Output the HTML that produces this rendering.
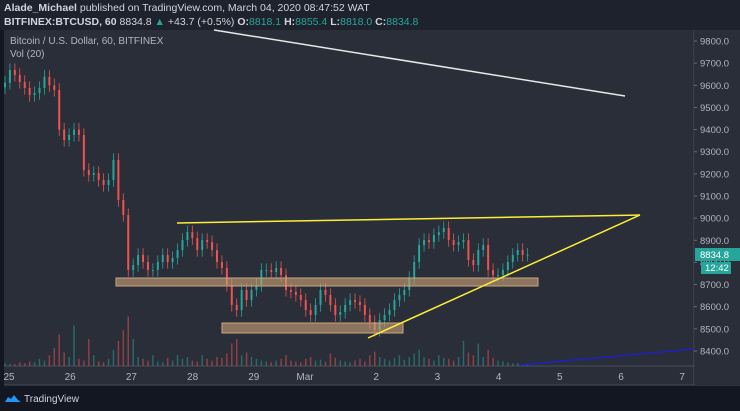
<!DOCTYPE html>
<html><head><meta charset="utf-8"><style>
html,body{margin:0;padding:0;background:#131722;}
#wrap{position:relative;width:740px;height:411px;overflow:hidden;background:#131722;font-family:"Liberation Sans",sans-serif;}
#hdr{position:absolute;left:0;top:0;width:740px;height:30px;background:#1e222d;color:#d1d4dc;font-size:10.5px;}
#hdr div{position:absolute;left:4px;white-space:nowrap;}
.g{color:#26a69a}
svg{position:absolute;left:0;top:0}
</style></head><body>
<div id="wrap">
<div id="hdr">
<div style="top:2px"><b>Alade_Michael</b> published on TradingView.com, March 04, 2020 08:47:52 WAT</div>
<div style="top:16px"><b>BITFINEX:BTCUSD, 60</b> 8834.8 <span class="g">▲</span> +43.7 (+0.5%) <b>O:</b><span class="g">8818.1</span> <b>H:</b><span class="g">8855.4</span> <b>L:</b><span class="g">8818.0</span> <b>C:</b><span class="g">8834.8</span></div>
</div>
<svg id="chart" width="740" height="411"></svg>
</div>
<script>
const closes=[9611,9669,9647,9615,9588,9556,9565,9588,9638,9600,9579,9400,9353,9376,9400,9376,9218,9195,9204,9172,9150,9172,9263,9082,9014,8766,8788,8834,8802,8766,8766,8802,8834,8802,8820,8856,8901,8937,8910,8856,8901,8892,8856,8802,8775,8698,8608,8585,8676,8630,8676,8698,8766,8766,8757,8775,8743,8676,8667,8653,8630,8585,8563,8608,8676,8653,8608,8563,8576,8608,8630,8621,8608,8563,8531,8495,8540,8563,8585,8630,8653,8676,8730,8802,8879,8901,8892,8924,8937,8956,8901,8879,8892,8901,8811,8788,8856,8879,8766,8743,8743,8766,8802,8834,8856,8834,8835];
const volumes=[3,2,2,4,3,5,4,8,6,12,20,35,15,10,45,8,6,30,12,5,4,8,18,28,40,55,30,10,8,6,12,5,4,9,6,12,8,10,6,5,12,8,6,10,9,14,25,30,12,15,10,8,6,5,4,6,8,12,6,5,4,8,10,6,7,5,14,9,6,5,4,6,8,5,12,16,10,8,6,9,12,7,10,14,18,10,8,6,12,9,8,6,10,28,15,12,25,10,18,9,6,5,4,3,3,2,2];
const priceTicks=[9800,9700,9600,9500,9400,9300,9200,9100,9000,8900,8800,8700,8600,8500,8400];
const timeLabels=["25","26","27","28","29","Mar","2","3","4","5","6","7"];
const timeDays=[0,1,2,3,4,5,6,7,8,9,10,11];
const NS="http://www.w3.org/2000/svg";
const svg=document.getElementById('chart');
const yP=p=>351-(p-8400)*0.2214;
const xDay=d=>d===5?305:9+d*61.2;
const xI=i=>5+i*4.93;
function el(t,a,p){const e=document.createElementNS(NS,t);for(const k in a)e.setAttribute(k,a[k]);(p||svg).appendChild(e);return e;}
const pane=el('rect',{x:4,y:30,width:690,height:355,fill:'#2a2e39'});


el('line',{x1:4,y1:366,x2:740,y2:366,stroke:'#4a4e59','stroke-width':1});
el('line',{x1:694,y1:30,x2:694,y2:385,stroke:'#4a4e59','stroke-width':1});
el('line',{x1:4,y1:385,x2:740,y2:385,stroke:'#4a4e59','stroke-width':1});
el('rect',{x:695,y:30,width:45,height:355,fill:'#2a2e39'});
const t1=el('text',{x:10,y:44,fill:'#b2b5be','font-size':'10px'});t1.textContent='Bitcoin / U.S. Dollar, 60, BITFINEX';


const t2=el('text',{x:10,y:57,fill:'#b2b5be','font-size':'10px'});t2.textContent='Vol (20)';


priceTicks.forEach(p=>{const t=el('text',{x:700,y:yP(p)+3.5,fill:'#b2b5be','font-size':'9.5px'});t.textContent=p.toFixed(1);


el('line',{x1:694,y1:yP(p),x2:697,y2:yP(p),stroke:'#6a6d78'});});
timeDays.forEach((d,i)=>{const t=el('text',{x:xDay(d),y:380,fill:'#b2b5be','font-size':'10px','text-anchor':'middle'});t.textContent=timeLabels[i];

});
// volume
volumes.forEach((v,i)=>{const up=i===0||closes[i]>=closes[i-1];const b=el('rect',{x:xI(i)-0.75,y:366-v*0.9,width:1.5,height:v*0.9,fill:up?'#26a69a':'#ef5350',opacity:0.5});

});
// candles
closes.forEach((c,i)=>{const o=i===0?c-20:closes[i-1];const up=c>=o;const col=up?'#26a69a':'#ef5350';const x=xI(i);
el('line',{x1:x,y1:yP(Math.max(o,c)+30),x2:x,y2:yP(Math.min(o,c)-30),stroke:col,'stroke-width':0.8});
const b=el('rect',{x:x-1,y:yP(Math.max(o,c)),width:2,height:Math.max(1,Math.abs(yP(o)-yP(c))),fill:col});

});
// drawings
function ln(x1,y1,x2,y2,c,n){const l=el('line',{x1,y1,x2,y2,stroke:c,'stroke-width':1.5});}
function box(x,y,w,h,n){const r=el('rect',{x,y,width:w,height:h,fill:'rgba(200,160,120,0.62)',stroke:'#c8a57f','stroke-width':1});}
box(116,278,422,8,'resistance-zone');
box(222,323,181,10,'support-zone');
ln(214,30,625,96,'#e8e8e8','downtrend-line');
ln(177,223,640,215,'#ffeb3b','triangle-top-line');
ln(368,338,640,215,'#ffeb3b','triangle-bottom-line');
ln(520,365,694,349,'#2020c0','blue-trend-line');
// last price
const lp=el('rect',{x:695,y:248,width:45,height:13,fill:'#26a69a'});


const lt=el('text',{x:700,y:258,fill:'#fff','font-size':'9.5px'});lt.textContent='8834.8';
el('rect',{x:701,y:262,width:30,height:12,fill:'#26a69a'});
const ct=el('text',{x:705,y:271,fill:'#fff','font-size':'9.5px'});ct.textContent='12:42';


// logo
const lg=el('text',{x:24,y:402,fill:'#d1d4dc','font-size':'10px'});lg.textContent='TradingView';


el('path',{d:'M5 402 l3 -5 l3 2 l3 -4 l4 5 l3 2 z',fill:'#2196f3'});
</script>
</body></html>
